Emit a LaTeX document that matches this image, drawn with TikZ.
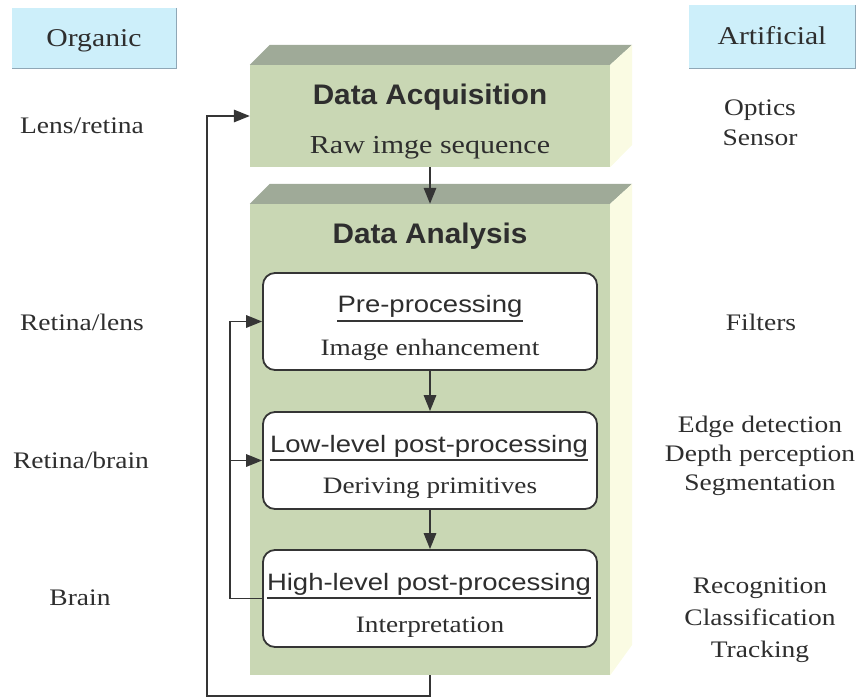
\documentclass[tikz,border=0pt]{standalone}
\usepackage{fontspec}
\setmainfont{Liberation Serif}[FakeStretch=1.16]
\newfontfamily\boxsans{Liberation Sans}[FakeStretch=1.16]
\newfontfamily\headsans{Liberation Sans}[FakeStretch=1.05]
\usetikzlibrary{arrows.meta,calc}

\definecolor{sage}{HTML}{C9D7B4}
\definecolor{sagetop}{HTML}{9FAA98}
\definecolor{sageside}{HTML}{FAFBE3}
\definecolor{skyfill}{HTML}{CDEFFA}
\definecolor{skyedge}{HTML}{8FA7B6}
\definecolor{ink}{HTML}{353535}
\definecolor{txt}{HTML}{2E2E2E}

\begin{document}
\begin{tikzpicture}[x=1pt,y=-1pt,
  every node/.style={text=txt},
  block/.style={fill=sage, draw=none, minimum width=360pt, inner sep=0pt},
  stagebox/.style={draw=ink, line width=1.8pt, rounded corners=12pt, fill=white,
                   minimum width=334pt, minimum height=97pt, inner sep=0pt},
  headtxt/.style={font=\headsans\bfseries\fontsize{28.3}{32}\selectfont, inner sep=0pt, anchor=base},
  titletxt/.style={font=\boxsans\fontsize{23.7}{28}\selectfont, inner sep=0pt, anchor=base},
  subtxt/.style={font=\fontsize{23.5}{28}\selectfont, inner sep=0pt, anchor=base},
  sidetxt/.style={font=\fontsize{23.7}{29}\selectfont, inner sep=0pt, anchor=base, align=center},
  tagbox/.style={fill=skyfill, inner sep=0pt, text height=17pt, text depth=0pt,
                 font=\fontsize{25.6}{30}\selectfont},
  conn/.style={draw=ink, line width=1.6pt, -{Triangle[length=16pt,width=12.5pt]}},
  rule/.style={draw=ink, line width=1.5pt}]
\useasboundingbox (0,0) rectangle (858,698);

% column headings
\node[tagbox, minimum width=164pt, minimum height=60pt] (org) at (94,38) {Organic};
\draw[skyedge, line width=1.3pt] (org.north east) -- (org.south east) -- (org.south west);
\node[tagbox, minimum width=166pt, minimum height=63pt] (art) at (772,36.5) {Artificial};
\draw[skyedge, line width=1.3pt] (art.north east) -- (art.south east) -- (art.south west);

% acquisition slab
\node[block, minimum height=102pt] (acq) at (430,116) {};
\fill[sagetop] (acq.north west) -- ++(20,-20) -- ($(acq.north east)+(22,-20)$) -- (acq.north east) -- cycle;
\fill[sageside] (acq.north east) -- ++(22,-20) -- ++(0,100) -- (acq.south east) -- cycle;
\node[headtxt] (acqh) at (430,105) {Data Acquisition};
\node[subtxt, font=\fontsize{25.9}{30}\selectfont] (acqs) at (430,153) {Raw imge sequence};

% analysis slab
\node[block, minimum height=471pt] (ana) at (430,439.5) {};
\fill[sagetop] (ana.north west) -- ++(20,-20) -- ($(ana.north east)+(22,-20)$) -- (ana.north east) -- cycle;
\fill[sageside] (ana.north east) -- ++(22,-20) -- ++(0,461) -- (ana.south east) -- cycle;
\node[headtxt] (anah) at (430,243) {Data Analysis};

% processing stages
\node[stagebox] (pre) at (430,321.5) {};
\node[stagebox] (low) at (430,460.5) {};
\node[stagebox] (hl)  at (430,598.5) {};

\node[titletxt] (pret) at (430,312) {Pre-processing};
\node[subtxt]   (pres) at (430,355) {Image enhancement};
\node[titletxt] (lowt) at (429,452) {Low-level post-processing};
\node[subtxt]   (lows) at (430,493) {Deriving primitives};
\node[titletxt] (hlt)  at (429,590) {High-level post-processing};
\node[subtxt]   (hls)  at (430,632) {Interpretation};

\draw[rule] ($(pret.base west)+(0,9)$) -- ($(pret.base east)+(0,9)$);
\draw[rule] ($(lowt.base west)+(0,8)$) -- ($(lowt.base east)+(0,8)$);
\draw[rule] ($(hlt.base west)+(0,8)$) -- ($(hlt.base east)+(0,8)$);

% forward flow
\draw[conn] (acq.south) -- (ana.north);
\draw[conn] (pre.south) -- (low.north);
\draw[conn] (low.south) -- (hl.north);

% feedback loops
\draw[conn] (hl.west) -- ++(-32,0) coordinate (fb) |- (pre.west);
\draw[conn] (fb |- low.west) -- (low.west);
\draw[conn] (ana.south -| hl.south) -- ++(0,21) -- ++(-223,0) |- (acq.west);

% organic counterparts
\node[sidetxt] (o1) at (82,133) {Lens/retina};
\node[sidetxt] (o2) at (82,330) {Retina/lens};
\node[sidetxt] (o3) at (81,468) {Retina/brain};
\node[sidetxt] (o4) at (80,605) {Brain};

% artificial counterparts (base anchor sits on the last line)
\node[sidetxt, font=\fontsize{23.7}{30}\selectfont] (a1) at (760,145) {Optics\\Sensor};
\node[sidetxt] (a2) at (761,330) {Filters};
\node[sidetxt] (a3) at (760,490) {Edge detection\\Depth perception\\Segmentation};
\node[sidetxt, font=\fontsize{23.7}{32}\selectfont] (a4) at (760,657) {Recognition\\Classification\\Tracking};
\end{tikzpicture}
\end{document}
